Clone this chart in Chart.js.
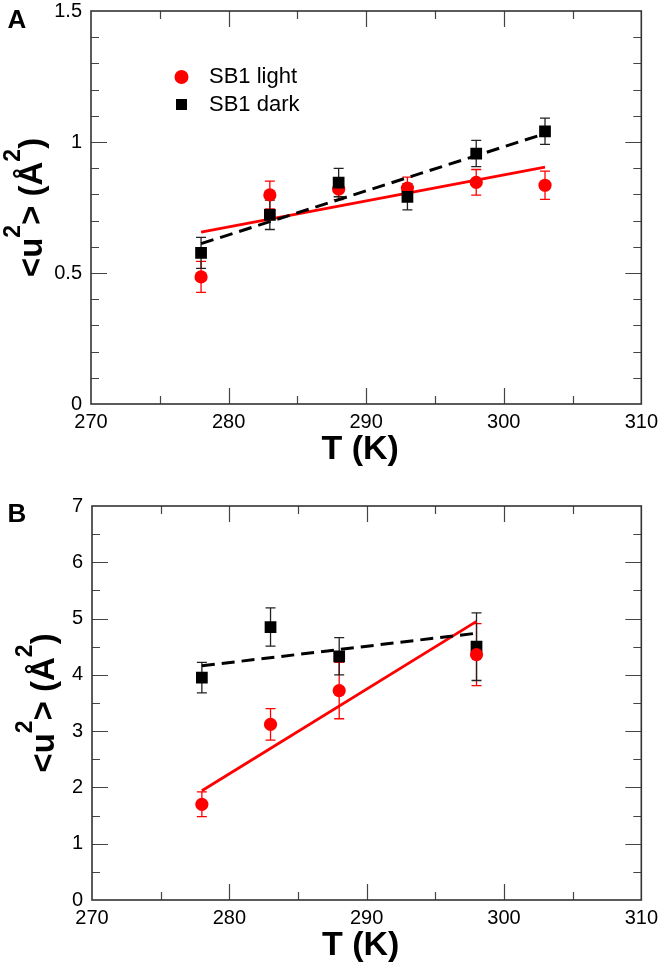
<!DOCTYPE html>
<html>
<head>
<meta charset="utf-8">
<script src="https://cdn.jsdelivr.net/npm/chart.js@4.4.0/dist/chart.umd.min.js"></script>
<style>
html, body { margin: 0; padding: 0; background: #fff; }
#wrap { position: relative; width: 664px; height: 965px; overflow: hidden; }
.panel { position: absolute; left: 0; width: 664px; }
#panelA { top: -10px; height: 490px; }
#panelB { top: 480px; height: 485px; }
canvas { display: block; }
</style>
</head>
<body>
<div id="wrap">
  <div class="panel" id="panelA"><canvas id="chartA" width="664" height="490"></canvas></div>
  <div class="panel" id="panelB"><canvas id="chartB" width="664" height="485"></canvas></div>
</div>
<script>
// Panel A values
const tempsA = [278, 283, 288, 293, 298, 303];
const lightA = [0.485, 0.798, 0.820, 0.824, 0.846, 0.835];
const lightErrA = [0.059, 0.053, 0.040, 0.042, 0.049, 0.054];
const darkA = [0.577, 0.722, 0.845, 0.791, 0.956, 1.041];
const darkErrA = [0.059, 0.056, 0.054, 0.050, 0.050, 0.050];
const fitTempsA = [278, 303];
const fitLightA = [0.656, 0.904];
const fitDarkA = [0.612, 1.032];

// Panel B values
const tempsB = [278, 283, 288, 298];
const lightB = [1.70, 3.12, 3.72, 4.36];
const lightErrB = [0.22, 0.28, 0.50, 0.55];
const darkB = [3.95, 4.85, 4.33, 4.50];
const darkErrB = [0.27, 0.34, 0.33, 0.60];
const fitTempsB = [278, 298];
const fitLightB = [1.94, 4.95];
const fitDarkB = [4.16, 4.74];

const legendLabels = ['SB1 light', 'SB1 dark'];
const FONT = '"Liberation Sans", Arial, Helvetica, sans-serif';
const RED = '#ff0000';
const BLACK = '#000000';

function pts(xs, ys) {
    return xs.map((x, i) => ({ x: x, y: ys[i] }));
}

// error bars, frame, inward ticks, axis titles, legend
const decorPlugin = {
    id: 'decor',
    beforeDatasetsDraw(chart, args, opts) {
        const ctx = chart.ctx;
        const xs = chart.scales.x, ys = chart.scales.y;
        ctx.save();
        opts.errors.forEach(e => {
            ctx.strokeStyle = e.color;
            ctx.lineWidth = 1.3;
            e.xs.forEach((t, i) => {
                const px = xs.getPixelForValue(t);
                const top = ys.getPixelForValue(e.ys[i] + e.errs[i]);
                const bot = ys.getPixelForValue(e.ys[i] - e.errs[i]);
                ctx.beginPath();
                ctx.moveTo(px, top); ctx.lineTo(px, bot);
                ctx.moveTo(px - 5, top); ctx.lineTo(px + 5, top);
                ctx.moveTo(px - 5, bot); ctx.lineTo(px + 5, bot);
                ctx.stroke();
            });
        });
        ctx.restore();
    },
    afterDraw(chart, args, opts) {
        const ctx = chart.ctx;
        const a = chart.chartArea;
        const xs = chart.scales.x, ys = chart.scales.y;
        ctx.save();

        // ticks pointing inward on all four sides
        ctx.strokeStyle = '#444';
        ctx.lineWidth = 1.2;
        ctx.beginPath();
        const nx = Math.round((xs.max - xs.min) / opts.xMinor);
        for (let i = 1; i < nx; i++) {
            const v = xs.min + i * opts.xMinor;
            const major = Math.abs(v / opts.xMajor - Math.round(v / opts.xMajor)) < 1e-6;
            const len = major ? 16 : 8;
            const px = Math.round(xs.getPixelForValue(v)) + 0.5;
            ctx.moveTo(px, a.bottom); ctx.lineTo(px, a.bottom - len);
            ctx.moveTo(px, a.top); ctx.lineTo(px, a.top + len);
        }
        const ny = Math.round((ys.max - ys.min) / opts.yMinor);
        for (let i = 1; i < ny; i++) {
            const v = ys.min + i * opts.yMinor;
            const major = Math.abs(v / opts.yMajor - Math.round(v / opts.yMajor)) < 1e-6;
            const len = major ? 16 : 8;
            const py = Math.round(ys.getPixelForValue(v)) + 0.5;
            ctx.moveTo(a.left, py); ctx.lineTo(a.left + len, py);
            ctx.moveTo(a.right, py); ctx.lineTo(a.right - len, py);
        }
        ctx.stroke();

        // frame
        ctx.strokeStyle = '#333';
        ctx.lineWidth = 1.6;
        ctx.strokeRect(a.left, a.top, a.right - a.left, a.bottom - a.top);

        ctx.fillStyle = '#000';

        // x title
        ctx.font = 'bold 34px ' + FONT;
        ctx.textAlign = 'center';
        ctx.textBaseline = 'middle';
        ctx.fillText('T (K)', (a.left + a.right) / 2 - 6, a.bottom + 46);

        // y title with superscripts
        drawYTitle(ctx, opts.yTitleX, (a.top + a.bottom) / 2);

        // panel letter
        ctx.font = 'bold 26px ' + FONT;
        ctx.textAlign = 'center';
        ctx.textBaseline = 'middle';
        ctx.fillText(opts.letter, 17, a.top + opts.letterDy);

        // legend inside the plot
        if (opts.legend) {
            const lx = 181.5, ly = a.top + 66;
            ctx.fillStyle = RED;
            ctx.beginPath();
            ctx.arc(lx, ly, 7, 0, Math.PI * 2);
            ctx.fill();
            ctx.fillStyle = BLACK;
            ctx.fillRect(lx - 5.5, ly + 27.5 - 5.5, 11, 11);
            ctx.font = '22px ' + FONT;
            ctx.textAlign = 'left';
            ctx.fillText(legendLabels[0], 209, ly);
            ctx.fillText(legendLabels[1], 209, ly + 27.5);
        }
        ctx.restore();
    }
};

function drawYTitle(ctx, baseX, cy) {
    const big = 'bold 33px ' + FONT;
    const small = 'bold 23px ' + FONT;
    const parts = [['<u', big, 0], ['2', small, 22], ['> (Å', big, 0], ['2', small, 22], [')', big, 0]];
    ctx.save();
    ctx.translate(baseX, cy);
    ctx.rotate(-Math.PI / 2);
    ctx.textAlign = 'left';
    ctx.textBaseline = 'alphabetic';
    let total = 0;
    parts.forEach(p => { ctx.font = p[1]; total += ctx.measureText(p[0]).width; });
    let x = -total / 2;
    parts.forEach(p => {
        ctx.font = p[1];
        ctx.fillText(p[0], x, -p[2]);
        x += ctx.measureText(p[0]).width;
    });
    ctx.restore();
}

function makeScales(xMin, xMax, xStep, yMin, yMax, yStep, yWidth, xHeight) {
    const tickFont = { family: FONT, size: 20 };
    return {
        x: {
            type: 'linear', min: xMin, max: xMax,
            ticks: { stepSize: xStep, font: tickFont, color: '#000', padding: 6, maxRotation: 0, autoSkip: false,
                     callback: v => String(v) },
            grid: { display: false, drawTicks: false },
            border: { display: false },
            afterFit(s) { s.height = xHeight; }
        },
        y: {
            type: 'linear', min: yMin, max: yMax,
            ticks: { stepSize: yStep, font: tickFont, color: '#000', padding: 9, autoSkip: false,
                     callback: v => String(v) },
            grid: { display: false, drawTicks: false },
            border: { display: false },
            afterFit(s) { s.width = yWidth; }
        }
    };
}

function makeDatasets(temps, light, dark, fitTemps, fitLight, fitDark, darkOnTop) {
    return [
        { label: legendLabels[0], data: pts(temps, light), pointStyle: 'circle', pointRadius: 6.6,
          backgroundColor: RED, borderColor: RED, borderWidth: 0, showLine: false, order: darkOnTop ? 2 : 1 },
        { label: legendLabels[1], data: pts(temps, dark), pointStyle: 'rect', pointRadius: 8.3,
          backgroundColor: BLACK, borderColor: BLACK, borderWidth: 0, showLine: false, order: darkOnTop ? 1 : 2 },
        { label: 'fit light', data: pts(fitTemps, fitLight), showLine: true, pointRadius: 0,
          borderColor: RED, borderWidth: 2.8, order: 4 },
        { label: 'fit dark', data: pts(fitTemps, fitDark), showLine: true, pointRadius: 0,
          borderColor: BLACK, borderWidth: 3, borderDash: [13, 7], order: 3 }
    ];
}

function makeChart(id, cfg) {
    return new Chart(document.getElementById(id), {
        type: 'scatter',
        data: { datasets: cfg.datasets },
        options: {
            responsive: false,
            animation: false,
            layout: { padding: cfg.padding },
            scales: cfg.scales,
            plugins: {
                legend: { display: false },
                tooltip: { enabled: false },
                decor: cfg.decor
            }
        },
        plugins: [decorPlugin]
    });
}

makeChart('chartA', {
    datasets: makeDatasets(tempsA, lightA, darkA, fitTempsA, fitLightA, fitDarkA, true),
    padding: { left: 0, right: 21, top: 19.5, bottom: 0 },
    scales: makeScales(270, 310, 10, 0, 1.5, 0.5, 91, 76),
    decor: {
        xMinor: 5, xMajor: 10, yMinor: 0.1, yMajor: 0.5,
        yTitleX: 42, letter: 'A', letterDy: 10, legend: true,
        errors: [
            { xs: tempsA, ys: lightA, errs: lightErrA, color: RED },
            { xs: tempsA, ys: darkA, errs: darkErrA, color: '#222' }
        ]
    }
});

makeChart('chartB', {
    datasets: makeDatasets(tempsB, lightB, darkB, fitTempsB, fitLightB, fitDarkB, false),
    padding: { left: 0, right: 21, top: 26, bottom: 0 },
    scales: makeScales(270, 310, 10, 0, 7, 1, 92, 65),
    decor: {
        xMinor: 5, xMajor: 10, yMinor: 0.5, yMajor: 1,
        yTitleX: 54, letter: 'B', letterDy: 9, legend: false,
        errors: [
            { xs: tempsB, ys: lightB, errs: lightErrB, color: RED },
            { xs: tempsB, ys: darkB, errs: darkErrB, color: '#222' }
        ]
    }
});
</script>
</body>
</html>
